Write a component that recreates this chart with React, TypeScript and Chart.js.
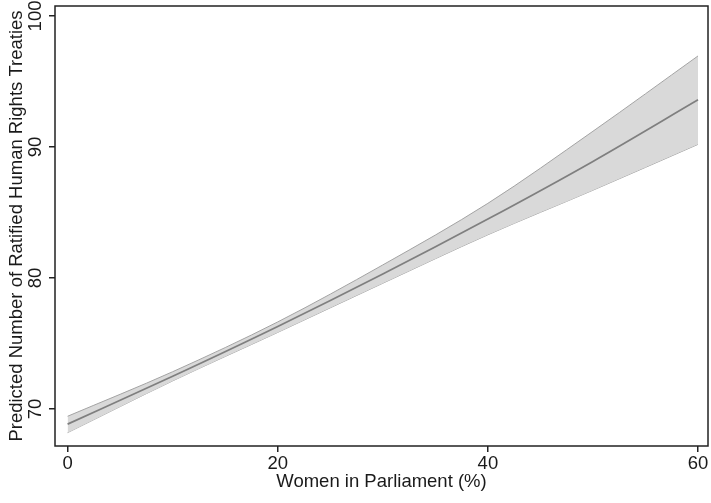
import React, { useEffect, useRef } from "react";
import { Chart, registerables } from "chart.js";

Chart.register(...registerables);

const xValues = [0, 10, 20, 30, 40, 50, 60];
const predicted = [68.85, 72.5, 76.3, 80.3, 84.5, 88.9, 93.6];
const upperCI = [69.45, 72.85, 76.65, 81.0, 85.7, 91.2, 96.95];
const lowerCI = [68.2, 72.15, 75.85, 79.6, 83.3, 86.7, 90.2];
const xTicks = [0, 20, 40, 60];
const yTicks = [70, 80, 90, 100];

const FONT = '"Liberation Sans", Arial, Helvetica, sans-serif';
const TEXT = "#1a1a1a";
const AXIS = "#222222";
const FS = 18.5;

const frame = {
  id: "frame",
  afterDraw(chart: any) {
    const { ctx, chartArea } = chart;
    ctx.save();
    ctx.strokeStyle = AXIS;
    ctx.lineWidth = 1.5;
    ctx.strokeRect(chartArea.left, chartArea.top, chartArea.right - chartArea.left, chartArea.bottom - chartArea.top);
    const ys = chart.scales.y;
    ctx.fillStyle = TEXT;
    ctx.font = `${FS}px ${FONT}`;
    ctx.textAlign = "center";
    ctx.textBaseline = "middle";
    ys.ticks.forEach((t: any) => {
      const py = ys.getPixelForValue(t.value);
      ctx.save();
      ctx.translate(36, py);
      ctx.rotate(-Math.PI / 2);
      ctx.fillText(String(t.value), 0, 0);
      ctx.restore();
    });
    ctx.restore();
  },
};

export default function App() {
  const ref = useRef<HTMLCanvasElement | null>(null);
  useEffect(() => {
    document.body.style.margin = "0";
    const toPts = (arr: number[]) => arr.map((v, i) => ({ x: xValues[i], y: v }));
    const chart = new Chart(ref.current as HTMLCanvasElement, {
      type: "line",
      data: {
        datasets: [
          {
            label: "Predicted",
            data: toPts(predicted),
            borderColor: "#7f7f7f",
            borderWidth: 1.7,
            pointRadius: 0,
            fill: false,
            cubicInterpolationMode: "monotone",
          },
          {
            label: "Upper",
            data: toPts(upperCI),
            borderColor: "#a3a3a3",
            borderWidth: 1,
            pointRadius: 0,
            backgroundColor: "#d9d9d9",
            fill: "+1",
            cubicInterpolationMode: "monotone",
          },
          {
            label: "Lower",
            data: toPts(lowerCI),
            borderColor: "#a3a3a3",
            borderWidth: 1,
            pointRadius: 0,
            fill: false,
            cubicInterpolationMode: "monotone",
          },
        ],
      },
      options: {
        animation: false,
        responsive: false,
        devicePixelRatio: 1,
        layout: { padding: { top: 6, right: 3, left: 0, bottom: 0 } },
        plugins: { legend: { display: false }, tooltip: { enabled: false } },
        font: { family: FONT },
        scales: {
          x: {
            type: "linear",
            min: -1.2,
            max: 60.95,
            afterBuildTicks: (s: any) => {
              s.ticks = xTicks.map((v) => ({ value: v }));
            },
            afterFit: (s: any) => {
              s.height = 57;
            },
            grid: { drawOnChartArea: false, drawTicks: true, tickLength: 6, color: AXIS, lineWidth: 1.5 },
            border: { display: false },
            ticks: { color: TEXT, font: { family: FONT, size: FS }, padding: 1, maxRotation: 0 },
            title: {
              display: true,
              text: "Women in Parliament (%)",
              color: TEXT,
              font: { family: FONT, size: FS },
              padding: { top: 0, bottom: 10 },
            },
          },
          y: {
            type: "linear",
            min: 67.18,
            max: 100.76,
            afterBuildTicks: (s: any) => {
              s.ticks = yTicks.map((v) => ({ value: v }));
            },
            afterFit: (s: any) => {
              s.width = 55;
            },
            grid: { drawOnChartArea: false, drawTicks: true, tickLength: 6, color: AXIS, lineWidth: 1.5 },
            border: { display: false },
            ticks: { display: false },
            title: {
              display: true,
              text: "Predicted Number of Ratified Human Rights Treaties",
              color: TEXT,
              font: { family: FONT, size: FS },
              padding: { top: 6, bottom: 0 },
            },
          },
        },
      },
      plugins: [frame],
    } as any);
    return () => chart.destroy();
  }, []);
  return (
    <div style={{ width: 711, height: 503 }}>
      <canvas ref={ref} width={711} height={503} style={{ display: "block" }} />
    </div>
  );
}
